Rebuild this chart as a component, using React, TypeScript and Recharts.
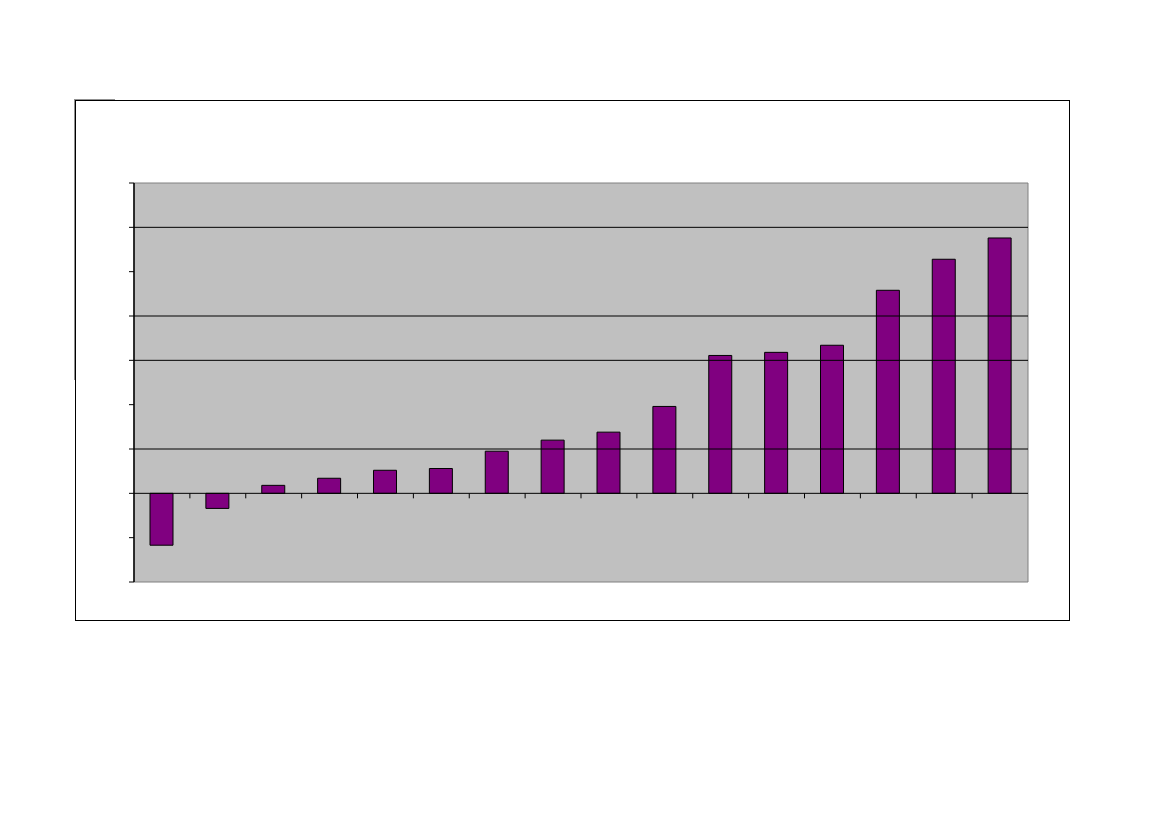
import React from "react";
import { BarChart, Bar, XAxis, YAxis, ReferenceLine, ReferenceArea } from "recharts";

const categories = ["1", "2", "3", "4", "5", "6", "7", "8", "9", "10", "11", "12", "13", "14", "15", "16"];
const values = [-1.17, -0.34, 0.18, 0.34, 0.52, 0.56, 0.95, 1.2, 1.38, 1.96, 3.11, 3.18, 3.34, 4.58, 5.28, 5.76];
const yTicks = [-2, -1, 0, 1, 2, 3, 4, 5, 6, 7];
const gridValues = [6, 4, 3, 1, 0];
const boundaryCats = categories.slice(1);

const data = categories.map((c, i) => ({ name: c, value: values[i] }));

const EmptyTick = () => <g />;

export default function App() {
  return (
    <div style={{ position: "absolute", left: 0, top: 0, width: 1169, height: 827, background: "#fff" }}>
      <div style={{ position: "absolute", left: 75, top: 100, width: 993, height: 519, border: "1px solid #000" }} />
      <div style={{ position: "absolute", left: 74, top: 99, width: 41, height: 1, background: "#909090" }} />
      <div style={{ position: "absolute", left: 74, top: 100, width: 1, height: 280, background: "#909090" }} />
      <div style={{ position: "absolute", left: 0, top: 0 }}>
        <BarChart
          width={1169}
          height={827}
          data={data}
          margin={{ top: 183, left: 124, right: 141, bottom: 245 }}
          barCategoryGap={0}
        >
          <XAxis dataKey="name" hide />
          <YAxis
            domain={[-2, 7]}
            ticks={yTicks}
            width={10}
            tick={EmptyTick}
            tickSize={5}
            axisLine={{ stroke: "#000", strokeWidth: 1 }}
            tickLine={{ stroke: "#000", strokeWidth: 1 }}
            allowDataOverflow
          />
          <ReferenceArea
            y1={-2}
            y2={7}
            fill="#C0C0C0"
            fillOpacity={1}
            stroke="#808080"
            strokeWidth={1}
          />
          {gridValues.map((v) => (
            <ReferenceLine key={"g" + v} y={v} stroke="#000" strokeWidth={1} />
          ))}
          <ReferenceLine x={categories[0]} position="start" stroke="#000" strokeWidth={1} />
          {boundaryCats.map((c) => (
            <ReferenceLine
              key={"t" + c}
              position="start"
              segment={[{ x: c, y: 0 }, { x: c, y: -0.113 }]}
              stroke="#000"
              strokeWidth={1}
            />
          ))}
          <Bar dataKey="value" fill="#800080" stroke="#000" strokeWidth={1} barSize={23} isAnimationActive={false} />
        </BarChart>
      </div>
    </div>
  );
}
